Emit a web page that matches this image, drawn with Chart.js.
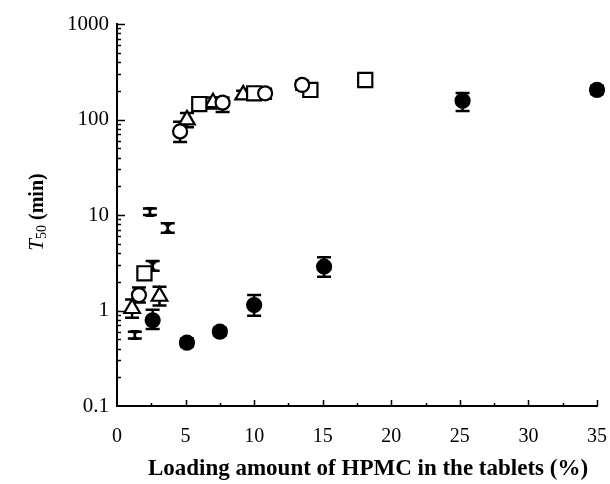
<!DOCTYPE html>
<html>
<head>
<meta charset="utf-8">
<script src="https://cdn.jsdelivr.net/npm/chart.js@4.4.1/dist/chart.umd.min.js"></script>
<style>
  html, body { margin: 0; padding: 0; background: #fff; }
  #wrap { width: 610px; height: 484px; }
</style>
</head>
<body>
<div id="wrap"><canvas id="chart" width="610" height="484"></canvas></div>
<script>
// Axis ticks
const xTicks = [0, 5, 10, 15, 20, 25, 30, 35]
const yTicks = [0.1, 1, 10, 100, 1000]

// Open circles
const circleX = [1.6, 4.6, 7.7, 10.8, 13.5]
const circleY = [1.45, 75, 150, 188, 230]
const circleLo = [1.21, 58, 120, 165, 205]
const circleHi = [1.74, 95, 170, 210, 255]

// Open squares
const squareX = [2.0, 6.0, 10.0, 14.1, 18.1]
const squareY = [2.45, 145, 188, 204, 259]
const squareLo = [2.2, 125, 165, 190, 240]
const squareHi = [2.7, 165, 210, 218, 275]

// Open triangles
const triX = [1.1, 3.1, 5.1, 7.0, 9.2]
const triY = [1.05, 1.41, 99, 150, 181]
const triLo = [0.84, 1.13, 83, 130, 165]
const triHi = [1.3, 1.77, 117, 170, 200]

// Filled circles
const dotX = [2.6, 5.1, 7.5, 10.0, 15.1, 25.2, 35.0]
const dotY = [0.79, 0.46, 0.6, 1.14, 2.88, 157, 204]
const dotLo = [0.64, 0.42, 0.55, 0.88, 2.25, 123, 185]
const dotHi = [1.02, 0.51, 0.66, 1.45, 3.6, 190, 225]

// Hourglass markers
const glassX = [1.3, 2.4, 2.6, 3.7]
const glassY = [0.55, 10.8, 2.9, 7.3]
const glassLo = [0.51, 10.0, 2.6, 6.5]
const glassHi = [0.6, 11.7, 3.3, 8.2]

const serif = "'Liberation Serif', 'DejaVu Serif', serif"

// small filled hourglass used as a point style
const hourglass = document.createElement("canvas")
hourglass.width = 10
hourglass.height = 10
{
  const g = hourglass.getContext("2d")
  g.fillStyle = "#000"
  g.beginPath()
  g.moveTo(0, 0)
  g.lineTo(10, 0)
  g.lineTo(5, 5)
  g.lineTo(10, 10)
  g.lineTo(0, 10)
  g.lineTo(5, 5)
  g.closePath()
  g.fill()
}

const toPoints = (xs, ys, lo, hi) => xs.map((x, i) => ({ x: x, y: ys[i], lo: lo[i], hi: hi[i] }))

const series = (pts, style, radius, fill) => ({
  data: pts,
  showLine: false,
  clip: false,
  pointStyle: style,
  pointRadius: radius,
  pointBackgroundColor: fill,
  pointBorderColor: "#000",
  pointBorderWidth: 2.2,
})

// Vertical error bars with caps, drawn under the markers
const errorBars = {
  id: "errorBars",
  beforeDatasetsDraw(chart) {
    const ctx = chart.ctx
    const xs = chart.scales.x
    const ys = chart.scales.y
    ctx.save()
    ctx.strokeStyle = "#000"
    ctx.lineWidth = 2.5
    chart.data.datasets.forEach((ds) => {
      ds.data.forEach((p) => {
        const px = xs.getPixelForValue(p.x)
        const top = ys.getPixelForValue(p.hi)
        const bot = ys.getPixelForValue(p.lo)
        ctx.beginPath()
        ctx.moveTo(px, top)
        ctx.lineTo(px, bot)
        ctx.moveTo(px - 7, top)
        ctx.lineTo(px + 7, top)
        ctx.moveTo(px - 7, bot)
        ctx.lineTo(px + 7, bot)
        ctx.stroke()
      })
    })
    ctx.restore()
  },
}

// Inward tick marks and axis titles
const frame = {
  id: "frame",
  afterDraw(chart) {
    const ctx = chart.ctx
    const xs = chart.scales.x
    const ys = chart.scales.y
    const area = chart.chartArea
    ctx.save()
    ctx.strokeStyle = "#000"
    ctx.lineWidth = 1.5
    ctx.beginPath()
    for (let v = 2.5; v <= 35; v += 2.5) {
      const px = Math.round(xs.getPixelForValue(v)) + 0.5
      const len = v % 5 === 0 ? 6 : 3
      ctx.moveTo(px, area.bottom)
      ctx.lineTo(px, area.bottom - len)
    }
    for (let d = -1; d <= 2; d++) {
      for (let m = 1; m <= 9; m++) {
        const v = m * Math.pow(10, d)
        if (v <= 0.1) continue
        const py = Math.round(ys.getPixelForValue(v)) + 0.5
        const len = m === 1 ? 8 : 4
        ctx.moveTo(area.left, py)
        ctx.lineTo(area.left + len, py)
      }
    }
    const pTop = Math.round(ys.getPixelForValue(1000)) + 0.5
    ctx.moveTo(area.left, pTop)
    ctx.lineTo(area.left + 8, pTop)
    ctx.stroke()

    // x title
    ctx.fillStyle = "#000"
    ctx.textAlign = "center"
    ctx.textBaseline = "middle"
    ctx.font = "bold 23px " + serif
    ctx.fillText("Loading amount of HPMC in the tablets (%)", 368, 469)

    // y title: T50 (min), rotated
    ctx.translate(36, 212)
    ctx.rotate(-Math.PI / 2)
    ctx.textAlign = "left"
    ctx.textBaseline = "alphabetic"
    const parts = [
      { t: "T", f: "italic 21px " + serif, dy: 0 },
      { t: "50", f: "14px " + serif, dy: 3 },
      { t: " (min)", f: "bold 20px " + serif, dy: 0 },
    ]
    let w = 0
    parts.forEach((p) => { ctx.font = p.f; w += ctx.measureText(p.t).width })
    let cx = -w / 2
    parts.forEach((p) => {
      ctx.font = p.f
      ctx.fillText(p.t, cx, 7 + p.dy)
      cx += ctx.measureText(p.t).width
    })
    ctx.restore()
  },
}

new Chart(document.getElementById("chart"), {
  type: "scatter",
  data: {
    datasets: [
      series(toPoints(circleX, circleY, circleLo, circleHi), "circle", 7, "#fff"),
      series(toPoints(squareX, squareY, squareLo, squareHi), "rect", 10, "#fff"),
      series(toPoints(triX, triY, triLo, triHi), "triangle", 9, "#fff"),
      series(toPoints(dotX, dotY, dotLo, dotHi), "circle", 7, "#000"),
      series(toPoints(glassX, glassY, glassLo, glassHi), hourglass, 5, "#000"),
    ],
  },
  options: {
    responsive: false,
    animation: false,
    events: [],
    layout: { padding: { top: 24, right: 13, left: 0, bottom: 0 } },
    plugins: { legend: { display: false }, tooltip: { enabled: false } },
    scales: {
      x: {
        type: "linear",
        min: 0,
        max: 35,
        afterBuildTicks: (s) => { s.ticks = xTicks.map((v) => ({ value: v })) },
        ticks: { color: "#000", font: { family: serif, size: 20 }, padding: 19, maxRotation: 0 },
        grid: { display: false, drawTicks: false },
        border: { display: true, color: "#000", width: 2 },
        afterFit: (s) => { s.height = 78; s.paddingLeft = 0; s.paddingRight = 0 },
      },
      y: {
        type: "logarithmic",
        min: 0.1,
        max: 1000,
        afterBuildTicks: (s) => { s.ticks = yTicks.map((v) => ({ value: v })) },
        ticks: { color: "#000", font: { family: serif, size: 21 }, padding: 8, callback: (v) => String(v) },
        grid: { display: false, drawTicks: false },
        border: { display: true, color: "#000", width: 2 },
        afterFit: (s) => { s.width = 117; s.paddingTop = 0; s.paddingBottom = 0 },
      },
    },
  },
  plugins: [errorBars, frame],
})
</script>
</body>
</html>
